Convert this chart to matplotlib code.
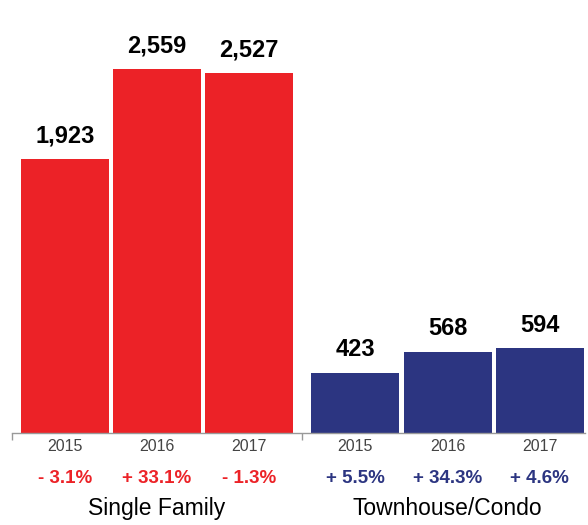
import matplotlib.pyplot as plt
from matplotlib.transforms import blended_transform_factory

years = ["2015", "2016", "2017"]
groups = ["Single Family", "Townhouse/Condo"]
single_family = [1923, 2559, 2527]
townhouse_condo = [423, 568, 594]
sf_change = ["- 3.1%", "+ 33.1%", "- 1.3%"]
tc_change = ["+ 5.5%", "+ 34.3%", "+ 4.6%"]

red = "#ec2227"
navy = "#2c3581"

plt.rcParams["font.family"] = ["Liberation Sans", "DejaVu Sans"]

fig = plt.figure(figsize=(5.88, 5.25), dpi=100)
ax = fig.add_axes([12 / 588, 92 / 525, 573 / 588, 433 / 525])

group_gap = 1.15
series = [(single_family, sf_change, red), (townhouse_condo, tc_change, navy)]
trans = blended_transform_factory(ax.transData, ax.transAxes)

for g, (vals, changes, color) in enumerate(series):
    xs = [g * (2 + group_gap) + i for i in range(3)]
    ax.bar(xs, vals, width=0.955, color=color, edgecolor="none")
    for x, v, yr, ch in zip(xs, vals, years, changes):
        ax.annotate(f"{v:,}", (x, v), xytext=(0, 12), textcoords="offset points",
                    ha="center", va="baseline", fontsize=17, fontweight="bold")
        ax.annotate(yr, (x, 0), xycoords=trans, xytext=(0, -13),
                    textcoords="offset points", ha="center", va="baseline",
                    fontsize=11.5, color="#444444")
        ax.annotate(ch, (x, 0), xycoords=trans, xytext=(0, -36),
                    textcoords="offset points", ha="center", va="baseline",
                    fontsize=13.5, fontweight="bold", color=color)
    ax.annotate(groups[g], (xs[1], 0), xycoords=trans, xytext=(0, -59),
                textcoords="offset points", ha="center", va="baseline",
                fontsize=16.5, color="black")

ax.set_xlim(-0.573, 2 * 2 + group_gap + 0.48 + 0.01)
ax.set_ylim(0, 3042)
for side in ["top", "right", "left"]:
    ax.spines[side].set_visible(False)
ax.spines["bottom"].set_color("#999999")
ax.spines["bottom"].set_linewidth(1)
ax.set_yticks([])
ax.set_xticks([-0.573, 2.57])
ax.set_xticklabels([])
ax.tick_params(axis="x", length=5, color="#999999", width=1)

fig.savefig("out.png", dpi=100)
